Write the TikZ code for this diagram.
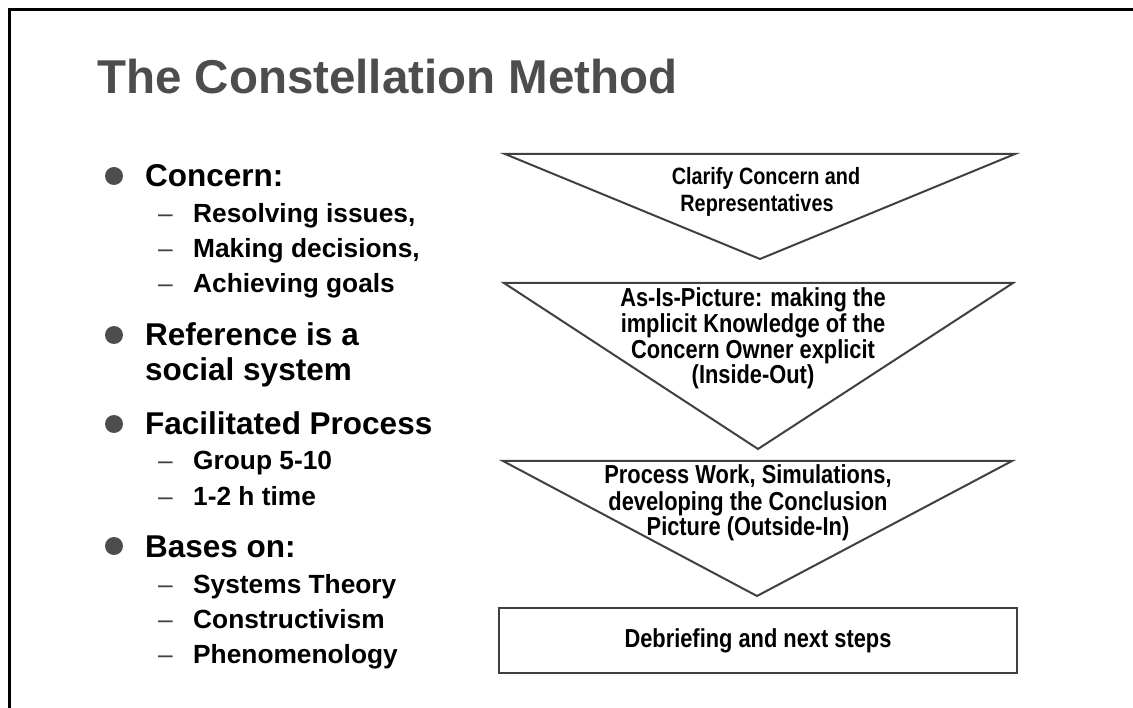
\documentclass[tikz,border=0pt]{standalone}
\usepackage{fontspec}
\setmainfont{Liberation Sans}
\newfontfamily\narrowfont[FakeStretch=0.84]{Liberation Sans}
\definecolor{titlegray}{HTML}{4D4D4D}
\definecolor{linegray}{HTML}{404040}
\begin{document}
\begin{tikzpicture}[x=1pt,y=-1pt,
  titletext/.style={anchor=base west,inner sep=0pt,text=titlegray,font=\fontsize{47.5}{50}\selectfont\bfseries},
  maintext/.style={anchor=base west,inner sep=0pt,font=\fontsize{31.5}{34}\selectfont\bfseries},
  subtext/.style={anchor=base west,inner sep=0pt,font=\fontsize{26.3}{29}\selectfont\bfseries},
  dashtext/.style={anchor=base west,inner sep=0pt,text=linegray,font=\fontsize{26.3}{29}\selectfont},
  bulletdot/.style={circle,fill=titlegray,inner sep=0pt,minimum size=18pt},
  steptext/.style={anchor=base,inner sep=0pt,font=\narrowfont\fontsize{26}{29}\selectfont\bfseries},
  smallsteptext/.style={steptext,font=\narrowfont\fontsize{23.6}{27}\selectfont\bfseries},
  stepshape/.style={draw=linegray,line width=2pt,line join=miter},
  frameline/.style={draw=black,line width=3pt}
]
\useasboundingbox (0,0) rectangle (1133,708);
% frame
\draw[frameline] (9.5,720) -- (9.5,9.5) -- (1140,9.5);
% title
\node[titletext] (title) at (97,94) {The Constellation Method};
% bullets
\node[bulletdot] (b1) at (114,176) {};
\node[maintext] (m1) at (145,187) {Concern:};
\node[dashtext] (d1) at (158,223) {–};
\node[subtext] (s1) at (193,223) {Resolving issues,};
\node[dashtext] (d2) at (158,258) {–};
\node[subtext] (s2) at (193,258) {Making decisions,};
\node[dashtext] (d3) at (158,293) {–};
\node[subtext] (s3) at (193,293) {Achieving goals};
\node[bulletdot] (b2) at (114,335) {};
\node[maintext] (m2) at (145,346) {Reference is a};
\node[maintext] (m2b) at (145,381) {social system};
\node[bulletdot] (b3) at (114,424) {};
\node[maintext] (m3) at (145,435) {Facilitated Process};
\node[dashtext] (d4) at (158,470) {–};
\node[subtext] (s4) at (193,470) {Group 5-10};
\node[dashtext] (d5) at (158,505) {–};
\node[subtext] (s5) at (193,505) {1-2 h time};
\node[bulletdot] (b4) at (114,546) {};
\node[maintext] (m4) at (145,557) {Bases on:};
\node[dashtext] (d6) at (158,593) {–};
\node[subtext] (s6) at (193,593) {Systems Theory};
\node[dashtext] (d7) at (158,628) {–};
\node[subtext] (s7) at (193,628) {Constructivism};
\node[dashtext] (d8) at (158,663) {–};
\node[subtext] (s8) at (193,663) {Phenomenology};
% step 1
\draw[stepshape] (505,154) -- (1015,154) -- (760,259) -- cycle;
\node[smallsteptext] (t1a) at (766,185) {Clarify Concern and};
\node[smallsteptext] (t1b) at (757,212) {Representatives};
% step 2
\draw[stepshape] (504,283) -- (1013,283) -- (758,449) -- cycle;
\node[steptext] (t2a) at (753,307) {As-Is-Picture: making the};
\node[steptext] (t2b) at (753,333) {implicit Knowledge of the};
\node[steptext] (t2c) at (753,359) {Concern Owner explicit};
\node[steptext] (t2d) at (753,384) {(Inside-Out)};
% step 3
\draw[stepshape] (503,461) -- (1012,461) -- (757,596) -- cycle;
\node[steptext] (t3a) at (748,483) {Process Work, Simulations,};
\node[steptext] (t3b) at (748,510) {developing the Conclusion};
\node[steptext] (t3c) at (748,535) {Picture (Outside-In)};
% step 4
\draw[stepshape] (499,608) rectangle (1017,673);
\node[steptext] (t4) at (758,647) {Debriefing and next steps};
\end{tikzpicture}
\end{document}
